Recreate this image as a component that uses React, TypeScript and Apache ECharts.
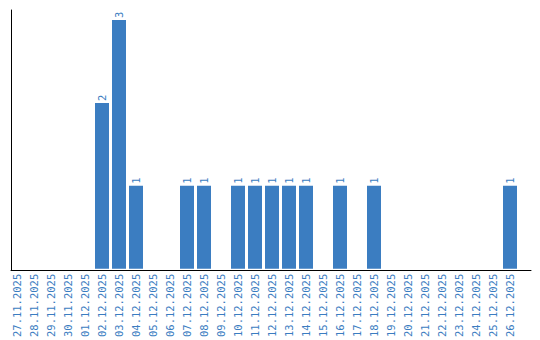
import React, { useEffect, useRef } from "react";
import * as echarts from "echarts";

const categories: string[] = [
  "27.11.2025", "28.11.2025", "29.11.2025", "30.11.2025", "01.12.2025",
  "02.12.2025", "03.12.2025", "04.12.2025", "05.12.2025", "06.12.2025",
  "07.12.2025", "08.12.2025", "09.12.2025", "10.12.2025", "11.12.2025",
  "12.12.2025", "13.12.2025", "14.12.2025", "15.12.2025", "16.12.2025",
  "17.12.2025", "18.12.2025", "19.12.2025", "20.12.2025", "21.12.2025",
  "22.12.2025", "23.12.2025", "24.12.2025", "25.12.2025", "26.12.2025",
];

const values: (number | null)[] = [
  null, null, null, null, null,
  2, 3, 1, null, null,
  1, 1, null, 1, 1,
  1, 1, 1, null, 1,
  null, 1, null, null, null,
  null, null, null, null, 1,
];

const BLUE = "#3b7dc1";
const FONT = "DejaVu Sans Mono";

export default function App() {
  const ref = useRef<HTMLDivElement>(null);
  useEffect(() => {
    if (!ref.current) return;
    const chart = echarts.init(ref.current, undefined, { renderer: "svg" });
    chart.setOption({
      animation: false,
      grid: [
        { left: 8.5, top: 20, width: 510, height: 250 },
        { left: 11, top: 10, width: 520, height: 260 },
      ],
      xAxis: [
        {
          type: "category",
          gridIndex: 0,
          data: categories,
          axisLine: { show: false },
          axisTick: { show: false },
          axisLabel: {
            interval: 0,
            rotate: 90,
            margin: 5,
            color: BLUE,
            fontFamily: FONT,
            fontSize: 10.5,
          },
        },
        {
          type: "value",
          gridIndex: 1,
          min: 0,
          max: 1,
          axisLine: { show: true, lineStyle: { color: "#000", width: 1 } },
          axisTick: { show: false },
          axisLabel: { show: false },
          splitLine: { show: false },
        },
      ],
      yAxis: [
        {
          type: "value",
          gridIndex: 0,
          min: 0,
          max: 3,
          axisLine: { show: false },
          axisTick: { show: false },
          axisLabel: { show: false },
          splitLine: { show: false },
        },
        {
          type: "value",
          gridIndex: 1,
          min: 0,
          max: 1,
          axisLine: { show: true, lineStyle: { color: "#000", width: 1 } },
          axisTick: { show: false },
          axisLabel: { show: false },
          splitLine: { show: false },
        },
      ],
      series: [
        {
          type: "bar",
          xAxisIndex: 0,
          yAxisIndex: 0,
          data: values,
          barWidth: 14,
          itemStyle: { color: BLUE },
          label: {
            show: true,
            position: "top",
            rotate: 90,
            align: "left",
            verticalAlign: "middle",
            distance: 2,
            color: BLUE,
            fontFamily: FONT,
            fontSize: 10.5,
          },
        },
      ],
    });
    return () => chart.dispose();
  }, []);
  return (
    <div
      ref={ref}
      style={{ position: "fixed", left: 0, top: 0, width: 540, height: 340, background: "#fff" }}
    />
  );
}
